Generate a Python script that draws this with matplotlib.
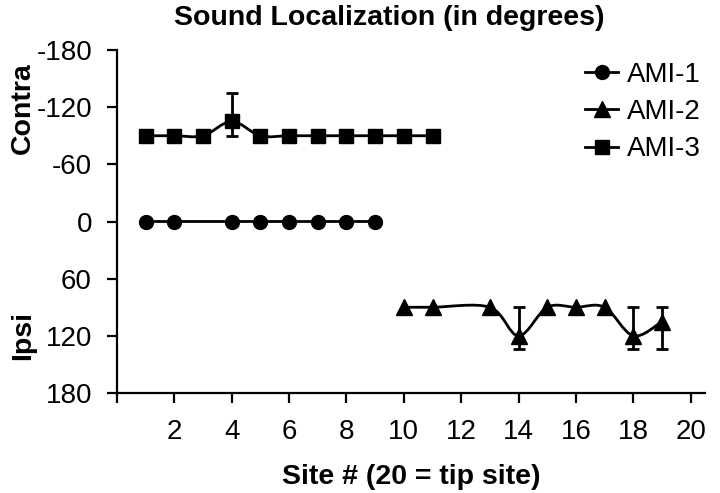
import numpy as np
import matplotlib
matplotlib.use('Agg')
import matplotlib.pyplot as plt
from matplotlib.path import Path
from matplotlib.patches import PathPatch
from matplotlib.lines import Line2D

plt.rcParams['font.family'] = ['Liberation Sans', 'DejaVu Sans']
plt.rcParams['axes.unicode_minus'] = False

# site numbers and localization (degrees), negative = contra
ami1_x = [1, 2, 4, 5, 6, 7, 8, 9]
ami1_y = [0, 0, 0, 0, 0, 0, 0, 0]
ami1_err_minus = [0, 0, 0, 0, 0, 0, 0, 0]
ami1_err_plus = [0, 0, 0, 0, 0, 0, 0, 0]

ami2_x = [10, 11, 13, 14, 15, 16, 17, 18, 19]
ami2_y = [90, 90, 90, 120, 90, 90, 90, 120, 105]
ami2_err_minus = [0, 0, 0, 30, 0, 0, 0, 30, 15]
ami2_err_plus = [0, 0, 0, 14, 0, 0, 0, 14, 29]

ami3_x = [1, 2, 3, 4, 5, 6, 7, 8, 9, 10, 11]
ami3_y = [-90, -90, -90, -105, -90, -90, -90, -90, -90, -90, -90]
ami3_err_minus = [0, 0, 0, 30, 0, 0, 0, 0, 0, 0, 0]
ami3_err_plus = [0, 0, 0, 15, 0, 0, 0, 0, 0, 0, 0]

labels = ['AMI-1', 'AMI-2', 'AMI-3']
markers = ['o', '^', 's']

x_ticks = [0, 2, 4, 6, 8, 10, 12, 14, 16, 18, 20]
x_ticklabels = ['', '2', '4', '6', '8', '10', '12', '14', '16', '18', '20']
y_ticks = [-180, -120, -60, 0, 60, 120, 180]


def smooth_path(x, y):
	# smoothed line through the points (cubic bezier, catmull-rom style)
	pts = np.column_stack([x, y]).astype(float)
	verts = [pts[0]]
	codes = [Path.MOVETO]
	n = len(pts)
	for i in range(n - 1):
		p0 = pts[i - 1] if i > 0 else pts[i]
		p1 = pts[i]
		p2 = pts[i + 1]
		p3 = pts[i + 2] if i + 2 < n else pts[i + 1]
		c1 = p1 + (p2 - p0) / 6.0
		c2 = p2 - (p3 - p1) / 6.0
		verts += [c1, c2, p2]
		codes += [Path.CURVE4] * 3
	return Path(verts, codes)


fig = plt.figure(figsize=(7.2, 4.93), dpi=100)
ax = fig.add_axes([117 / 720, 1 - 393 / 493, (705 - 117) / 720, (393 - 50) / 493])

series = [
	(ami1_x, ami1_y, ami1_err_minus, ami1_err_plus),
	(ami2_x, ami2_y, ami2_err_minus, ami2_err_plus),
	(ami3_x, ami3_y, ami3_err_minus, ami3_err_plus),
]

handles = []
for (xs, ys, em, ep), lab, mk in zip(series, labels, markers):
	ax.add_patch(PathPatch(smooth_path(xs, ys), facecolor='none', edgecolor='black', lw=2.0, zorder=2))
	xs_a = np.array(xs)
	ys_a = np.array(ys)
	em_a = np.array(em)
	ep_a = np.array(ep)
	has_err = (em_a + ep_a) > 0
	if has_err.any():
		ax.errorbar(xs_a[has_err], ys_a[has_err], yerr=[em_a[has_err], ep_a[has_err]],
			fmt='none', ecolor='black', elinewidth=2.0, capsize=4, capthick=2.0, zorder=3)
	ms = 11 if mk == '^' else 10
	ax.plot(xs, ys, linestyle='none', marker=mk, color='black', markersize=ms, zorder=4)
	handles.append(Line2D([], [], color='black', lw=2.0, marker=mk, markersize=ms))

ax.set_xlim(0, 20.5)
ax.set_ylim(180, -180)
ax.set_xticks(x_ticks)
ax.set_xticklabels(x_ticklabels)
ax.set_yticks(y_ticks)

for side in ['top', 'right']:
	ax.spines[side].set_visible(False)
for side in ['left', 'bottom']:
	ax.spines[side].set_linewidth(1.6)
ax.tick_params(axis='both', direction='out', length=7, width=1.6, labelsize=20)
ax.tick_params(axis='x', pad=12)
ax.tick_params(axis='y', pad=11)

fig.text(389 / 720, 1 - 18 / 493, 'Sound Localization (in degrees)', ha='center', va='center',
	fontsize=20.5, fontweight='bold')
fig.text(411 / 720, 1 - 477 / 493, 'Site # (20 = tip site)', ha='center', va='center',
	fontsize=20.5, fontweight='bold')
fig.text(23 / 720, 1 - 108 / 493, 'Contra', rotation=90, ha='center', va='center',
	fontsize=20.5, fontweight='bold')
fig.text(23 / 720, 1 - 336 / 493, 'Ipsi', rotation=90, ha='center', va='center',
	fontsize=20.5, fontweight='bold')

fig.legend(handles, labels, loc='upper left', bbox_to_anchor=(585 / 720, 1 - 62 / 493),
	frameon=False, fontsize=20, handlelength=1.2, handletextpad=0.3, labelspacing=0.4,
	borderaxespad=0, borderpad=0)

plt.savefig('out.png', dpi=100)
plt.close(fig)
